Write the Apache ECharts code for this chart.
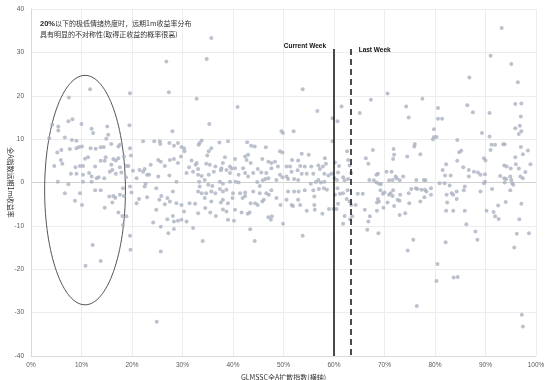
<!DOCTYPE html>
<html>
<head>
<meta charset="utf-8">
<script src="https://cdn.jsdelivr.net/npm/echarts@6/dist/echarts.min.js"></script>
<style>
  html, body { margin: 0; padding: 0; background: #fff; }
  #chart { width: 550px; height: 380px; }
</style>
</head>
<body>
<div id="chart"></div>
<script>
// x: GLMSSC full-A diffusion index (%), y: forward 1m return (%)
const lowZonePoints = [
  [26.8,27.9],[11.7,21.5],[7.5,19.6],[19.6,20.6],[27.3,20.8],[32.8,19.3],[8.2,14.6],[7.4,14.1],[10.0,13.5],[4.2,13.3],
  [5.4,12.9],[5.4,12.0],[12.0,12.4],[12.3,11.4],[15.1,12.9],[19.5,13.2],[28.0,11.8],[3.6,10.2],[6.7,10.4],[8.1,9.8],
  [9.0,9.6],[14.9,10.1],[15.3,11.0],[17.3,8.3],[17.6,8.7],[5.2,6.9],[6.0,7.5],[7.7,7.7],[9.0,7.9],[9.5,8.2],
  [10.1,8.3],[11.8,7.9],[12.8,7.8],[13.8,8.1],[14.4,8.2],[15.9,8.9],[19.6,7.9],[22.2,9.5],[24.4,9.5],[25.5,9.5],
  [25.6,8.9],[27.4,9.1],[28.3,8.5],[29.1,9.1],[29.8,8.2],[30.3,7.9],[30.4,7.2],[33.4,9.1],[5.9,5.2],[6.2,4.3],
  [4.6,3.8],[8.8,3.5],[9.7,3.8],[10.3,3.8],[10.7,5.5],[11.3,5.8],[12.7,3.7],[13.8,5.0],[14.6,5.0],[14.8,5.8],
  [15.9,4.1],[16.3,5.4],[16.8,5.1],[17.3,5.6],[17.6,3.5],[18.4,6.0],[18.9,3.8],[19.3,3.8],[19.8,6.2],[7.9,2.0],
  [9.0,2.0],[10.3,1.8],[11.5,2.2],[12.0,1.4],[13.0,1.0],[13.4,1.2],[14.5,1.0],[15.6,2.5],[16.1,2.9],[16.8,2.0],
  [17.9,2.3],[18.8,1.2],[20.2,2.7],[21.5,2.9],[22.2,2.5],[22.5,3.1],[23.0,1.8],[23.7,4.1],[23.4,1.8],[25.2,5.2],
  [25.7,4.8],[26.5,3.8],[27.5,5.2],[28.3,5.4],[29.1,4.5],[29.7,6.0],[30.8,2.2],[31.3,3.5],[31.8,5.1],[32.1,2.5],
  [32.6,4.1],[33.1,1.8],[5.3,0.2],[10.3,0.2],[12.0,0.2],[20.9,1.0],[22.7,-0.3],[25.2,1.4],[27.4,1.6],[28.8,0.2],
  [7.4,-0.4],[6.7,-2.5],[8.7,-4.2],[9.7,-2.5],[10.1,-5.2],[12.7,-1.8],[13.8,-1.8],[15.5,-3.2],[16.3,-3.1],[16.7,-3.5],
  [16.1,-4.6],[17.6,-2.8],[18.2,-1.3],[18.4,-3.1],[14.6,-5.8],[17.3,-6.9],[18.1,-7.7],[18.9,-7.8],[18.2,-9.8],[19.6,-0.9],
  [19.9,-2.3],[20.9,-4.8],[21.4,-3.8],[22.5,-0.9],[23.0,-3.4],[24.8,-1.3],[25.4,-4.0],[24.8,-6.3],[25.8,-3.1],[26.5,-5.0],
  [27.0,-3.6],[27.5,-4.4],[28.1,-2.1],[28.8,-4.8],[29.8,-5.2],[30.3,-6.7],[28.1,-7.7],[27.0,-8.5],[28.3,-9.0],[29.1,-8.8],
  [29.8,-8.6],[24.2,-9.2],[25.7,-10.2],[27.2,-11.7],[28.3,-10.7],[30.8,-9.0],[32.1,-10.5],[31.4,-4.8],[32.5,-4.9],[33.1,-2.1],
  [19.6,-12.3],[19.7,-15.5],[12.2,-14.4],[13.8,-18.1],[10.8,-19.2],[25.7,-15.9],[24.9,-32.1]
];
const midZonePoints = [
  [35.7,33.3],[34.8,28.5],[40.9,17.4],[35.3,13.5],[49.6,11.8],[49.9,11.4],[33.2,8.7],[33.8,9.7],[35.7,7.9],[35.2,7.2],
  [34.9,6.2],[37.3,9.2],[39.0,9.5],[42.8,9.3],[43.6,8.5],[44.3,8.3],[46.5,8.1],[49.3,7.2],[49.8,6.9],[38.4,5.8],
  [40.4,5.4],[42.4,6.0],[43.0,6.4],[42.7,5.2],[43.5,4.5],[45.8,5.4],[47.0,4.8],[48.3,4.8],[47.6,4.5],[48.9,3.7],
  [34.7,4.3],[35.4,4.1],[36.5,3.7],[37.7,3.3],[38.0,4.5],[39.4,3.7],[39.7,3.2],[40.4,3.3],[42.0,3.3],[44.9,3.1],
  [45.6,2.3],[46.6,2.2],[47.6,3.3],[32.8,4.5],[33.1,3.1],[33.8,1.5],[35.2,1.8],[36.2,2.5],[37.6,2.8],[38.7,2.9],
  [39.4,2.2],[41.1,1.8],[42.4,2.2],[43.0,1.4],[44.0,2.2],[44.8,0.1],[45.9,0.5],[46.4,0.8],[47.0,1.0],[48.6,0.6],
  [49.3,1.8],[49.8,1.2],[33.3,0.2],[34.4,0.6],[35.1,-0.5],[35.9,-0.8],[37.4,0.2],[38.0,-0.3],[39.4,0.2],[40.5,0.2],
  [41.1,0.0],[33.4,-0.9],[33.8,-2.5],[34.7,-2.5],[35.7,-2.1],[36.5,-2.5],[37.4,-1.5],[38.0,-2.1],[38.7,-1.7],[40.0,-2.5],
  [41.4,-2.5],[42.4,-2.3],[44.0,-2.1],[45.3,-0.8],[45.3,-2.5],[46.6,-2.5],[47.6,-1.8],[34.4,-3.6],[35.7,-4.4],[37.6,-4.6],
  [38.0,-4.0],[39.0,-4.8],[39.9,-3.6],[41.9,-3.6],[42.4,-3.1],[43.5,-4.8],[44.4,-4.8],[45.8,-4.4],[46.1,-4.0],[47.1,-2.8],
  [48.6,-3.6],[49.4,-5.2],[33.1,-7.1],[34.5,-5.9],[35.5,-6.9],[36.6,-7.7],[38.0,-6.2],[38.7,-6.7],[39.0,-8.6],[40.2,-8.8],
  [40.4,-6.3],[41.7,-6.9],[42.9,-7.2],[43.3,-6.9],[44.9,-5.2],[47.0,-8.0],[47.5,-8.6],[47.7,-7.8],[49.9,-9.5],[43.4,-10.8],
  [44.3,-13.5],[34.0,-13.5],
  [53.8,21.5],[67.3,19.1],[61.5,17.5],[56.7,16.5],[65.1,16.0],[59.7,14.8],[60.7,14.1],[52.0,11.8],[59.7,9.5],[62.6,7.2],
  [67.7,7.5],[53.6,6.6],[55.0,6.4],[51.7,5.2],[52.9,5.1],[58.2,5.6],[60.2,4.6],[61.0,3.8],[62.8,5.2],[63.1,3.9],
  [66.3,5.6],[66.8,4.3],[50.6,3.7],[51.3,3.7],[53.3,3.8],[54.2,3.7],[55.5,3.7],[56.9,3.9],[57.8,3.7],[58.4,4.3],
  [57.2,3.1],[51.6,2.5],[52.8,2.8],[53.6,2.0],[54.6,2.0],[55.9,2.0],[58.1,2.0],[58.9,1.6],[59.5,2.0],[60.8,2.3],
  [61.8,1.2],[63.4,2.2],[50.6,1.4],[50.9,0.8],[52.1,0.8],[52.9,0.6],[55.4,-0.3],[56.4,0.1],[56.9,0.6],[57.4,0.0],
  [58.1,0.2],[60.1,1.0],[60.6,0.6],[62.1,0.5],[62.8,0.8],[67.0,0.6],[50.9,-2.1],[52.1,-2.1],[53.0,-2.1],[54.2,-1.8],
  [55.9,-1.8],[57.0,-1.5],[58.0,-1.3],[58.6,-1.7],[60.7,-1.3],[61.2,-2.6],[61.8,-2.5],[62.7,-1.8],[64.7,-2.6],[65.7,-2.6],
  [50.6,-4.0],[51.6,-5.2],[52.9,-4.0],[53.3,-5.2],[51.9,-5.4],[56.1,-3.2],[56.1,-5.2],[56.2,-6.3],[54.6,-6.5],[57.7,-7.2],
  [59.0,-6.1],[59.9,-6.1],[60.5,-6.1],[60.8,-4.9],[60.2,-2.8],[62.5,-3.8],[63.1,-4.4],[63.4,-5.2],[64.3,-5.2],[62.1,-7.7],
  [61.8,-9.5],[63.2,-8.5],[63.6,-7.8],[66.1,-6.3],[67.1,-7.8],[66.8,-9.0],[66.6,-10.9],[53.8,-12.3]
];
const highZonePoints = [
  [70.6,20.5],[77.5,19.3],[74.3,17.5],[80.6,17.2],[74.8,15.0],[80.6,14.7],[81.4,14.7],[79.8,12.3],[79.8,10.5],[80.3,10.5],
  [79.6,10.0],[84.4,9.8],[76.0,8.9],[75.9,8.3],[71.8,7.7],[71.9,6.4],[77.1,6.5],[74.5,6.0],[84.8,7.0],[71.7,5.4],
  [84.4,5.0],[82.2,4.2],[81.5,2.9],[83.1,1.6],[82.0,1.6],[68.4,1.8],[68.7,2.0],[70.4,2.5],[71.4,2.5],[72.2,1.4],
  [72.4,1.0],[73.7,1.4],[73.0,0.5],[70.9,0.5],[71.6,0.6],[67.9,0.5],[68.4,0.0],[68.9,-0.3],[69.3,-0.4],[76.3,0.6],
  [77.8,0.6],[78.1,0.5],[80.9,-0.2],[81.9,-0.2],[82.9,-0.7],[69.2,-1.8],[69.7,-2.6],[70.0,-2.3],[71.2,-2.5],[71.7,-1.8],
  [71.6,-3.1],[70.9,-2.8],[73.1,-2.8],[75.3,-1.5],[74.8,-2.5],[76.2,-1.3],[76.5,-1.5],[77.3,-1.7],[78.0,-1.7],[78.3,-2.1],
  [79.2,-1.3],[79.2,-2.8],[77.9,-3.4],[77.1,-4.4],[82.3,-2.8],[83.3,-2.5],[83.6,-2.8],[84.3,-2.1],[84.3,-3.8],[82.4,-4.6],
  [68.7,-3.8],[68.5,-4.6],[68.9,-4.4],[72.6,-4.0],[73.0,-4.2],[70.6,-4.6],[69.8,-5.8],[71.9,-5.4],[68.5,-6.5],[74.9,-4.8],
  [73.0,-7.5],[74.1,-7.1],[82.2,-6.5],[83.6,-6.5],[68.8,-11.7],[75.7,-13.2],[74.6,-15.7],[82.1,-13.8],[80.5,-18.8],[80.3,-22.7],
  [83.7,-21.9],[84.5,-21.8],[76.4,-28.5],
  [93.2,35.6],[91.0,29.2],[95.1,27.3],[86.8,24.2],[96.4,23.1],[86.4,17.8],[87.5,16.2],[90.8,16.0],[95.9,18.1],[97.1,18.2],
  [97.0,15.2],[95.9,12.5],[96.8,13.1],[97.1,11.8],[96.6,11.2],[89.3,11.4],[90.8,10.6],[91.2,8.7],[91.9,8.7],[93.5,8.8],
  [93.8,8.8],[91.0,7.5],[85.2,7.3],[97.0,8.2],[98.4,7.4],[95.9,5.8],[97.4,6.5],[89.7,5.6],[90.0,5.1],[98.9,4.2],
  [93.7,3.9],[94.2,3.7],[96.0,4.2],[96.6,3.2],[95.0,3.2],[85.6,3.5],[86.7,2.9],[87.7,2.5],[88.5,2.3],[89.0,1.8],
  [89.9,1.9],[86.7,1.4],[92.9,1.5],[93.7,1.0],[94.1,0.8],[94.9,1.4],[95.1,0.6],[96.9,1.4],[97.4,1.0],[97.9,2.4],
  [89.9,0.2],[89.7,-0.2],[93.8,0.0],[95.3,-0.2],[95.5,-0.5],[85.9,-0.9],[85.7,-1.8],[89.0,-2.1],[91.3,-1.5],[94.9,-1.8],
  [85.9,-6.5],[90.2,-6.5],[91.6,-6.8],[91.9,-7.8],[92.6,-8.4],[92.5,-5.3],[94.0,-4.5],[97.1,-4.9],[96.7,-8.5],[86.2,-9.6],
  [88.0,-11.3],[88.4,-13.2],[96.2,-11.8],[98.6,-11.7],[95.7,-15.0],[97.2,-30.5],[97.4,-33.2]
];

const currentWeek = 60.0;
const lastWeek = 63.3;
const weekLineTop = 30.8;
// ellipse around the low-sentiment zone: centre and half-axes in data units
const ellipseCenter = [10.7, -1.75];
const ellipseRadius = [8.0, 26.45];

const noteText = '{b|20%}以下的极低情绪热度时，远期1m收益率分布\n具有明显的不对称性(取得正收益的概率很高)';
const yAxisTitle = '全A指数远期1m收益率';

const chart = echarts.init(document.getElementById('chart'));

const gridGrey = '#ededed';
const tickColor = '#595959';
// darker split line at y = 0 (index 4 of -40..40)
const ySplitColors = [gridGrey, gridGrey, gridGrey, gridGrey, '#d0d0d0', gridGrey, gridGrey, gridGrey, gridGrey];

chart.setOption({
  animation: false,
  backgroundColor: '#fff',
  title: {
    text: noteText,
    left: 35,
    top: 13,
    textStyle: {
      fontFamily: '"Noto Sans CJK SC", sans-serif',
      fontSize: 7,
      fontWeight: 'normal',
      color: '#333',
      lineHeight: 11,
      rich: {
        b: { fontWeight: 'bold', fontSize: 7.5, color: '#222', fontFamily: 'Liberation Sans, Arial, sans-serif' }
      }
    }
  },
  grid: { left: 31, right: 14, top: 9, bottom: 24, containLabel: false, outerBoundsMode: 'none' },
  xAxis: {
    type: 'value',
    min: 0, max: 100, interval: 10,
    name: 'GLMSSC全A扩散指数(横轴)',
    nameLocation: 'middle',
    nameGap: 16,
    nameTextStyle: { fontFamily: '"Noto Sans CJK SC", sans-serif', fontSize: 7, color: '#333' },
    axisLine: { onZero: false, lineStyle: { color: '#d9d9d9' } },
    axisTick: { show: false },
    axisLabel: {
      formatter: '{value}%', fontSize: 6.5, color: tickColor, margin: 6,
      fontFamily: 'Liberation Sans, Arial, sans-serif'
    },
    splitLine: { lineStyle: { color: gridGrey } }
  },
  yAxis: {
    type: 'value',
    min: -40, max: 40, interval: 10,
    axisLine: { show: true, lineStyle: { color: '#d9d9d9' } },
    axisTick: { show: false },
    axisLabel: { fontSize: 6.5, color: tickColor, margin: 7, fontFamily: 'Liberation Sans, Arial, sans-serif' },
    splitLine: { lineStyle: { color: ySplitColors } }
  },
  series: [
    {
      type: 'scatter',
      symbolSize: 4,
      itemStyle: { color: '#aab2c0' },
      data: lowZonePoints.concat(midZonePoints, highZonePoints),
      markLine: {
        silent: true,
        symbol: 'none',
        label: { show: false },
        data: [
          [
            { coord: [currentWeek, weekLineTop], lineStyle: { color: '#111', width: 1.5, type: 'solid' } },
            { coord: [currentWeek, -40] }
          ],
          [
            { coord: [lastWeek, weekLineTop], lineStyle: { color: '#111', width: 1.5, type: [6, 4] } },
            { coord: [lastWeek, -40] }
          ]
        ]
      }
    }
  ]
});

function drawAnnotations() {
  const c = chart.convertToPixel({ gridIndex: 0 }, ellipseCenter);
  const edge = chart.convertToPixel({ gridIndex: 0 },
    [ellipseCenter[0] + ellipseRadius[0], ellipseCenter[1] + ellipseRadius[1]]);
  const cw = chart.convertToPixel({ gridIndex: 0 }, [currentWeek, weekLineTop]);
  const lw = chart.convertToPixel({ gridIndex: 0 }, [lastWeek, weekLineTop]);
  const axisMid = chart.convertToPixel({ gridIndex: 0 }, [0, 0]);
  const labelFont = 'bold 6.5px Liberation Sans, Arial, sans-serif';
  chart.setOption({
    graphic: [
      {
        type: 'ellipse',
        shape: { cx: c[0], cy: c[1], rx: Math.abs(edge[0] - c[0]), ry: Math.abs(c[1] - edge[1]) },
        style: { fill: null, stroke: '#555', lineWidth: 1 },
        silent: true
      },
      {
        type: 'text',
        x: cw[0] - 8, y: cw[1] + 1,
        style: { text: 'Current Week', font: labelFont, fill: '#111', align: 'right', verticalAlign: 'bottom' }
      },
      {
        type: 'text',
        x: lw[0] + 8, y: lw[1] + 5,
        style: { text: 'Last Week', font: labelFont, fill: '#111', align: 'left', verticalAlign: 'bottom' }
      },
      {
        // y-axis title, reads top to bottom
        type: 'text',
        x: 11, y: axisMid[1],
        rotation: -Math.PI / 2,
        style: {
          text: yAxisTitle, fill: '#333', align: 'center', verticalAlign: 'middle',
          font: '7px "Noto Sans CJK SC", sans-serif'
        }
      }
    ]
  });
}
drawAnnotations();
</script>
</body>
</html>
